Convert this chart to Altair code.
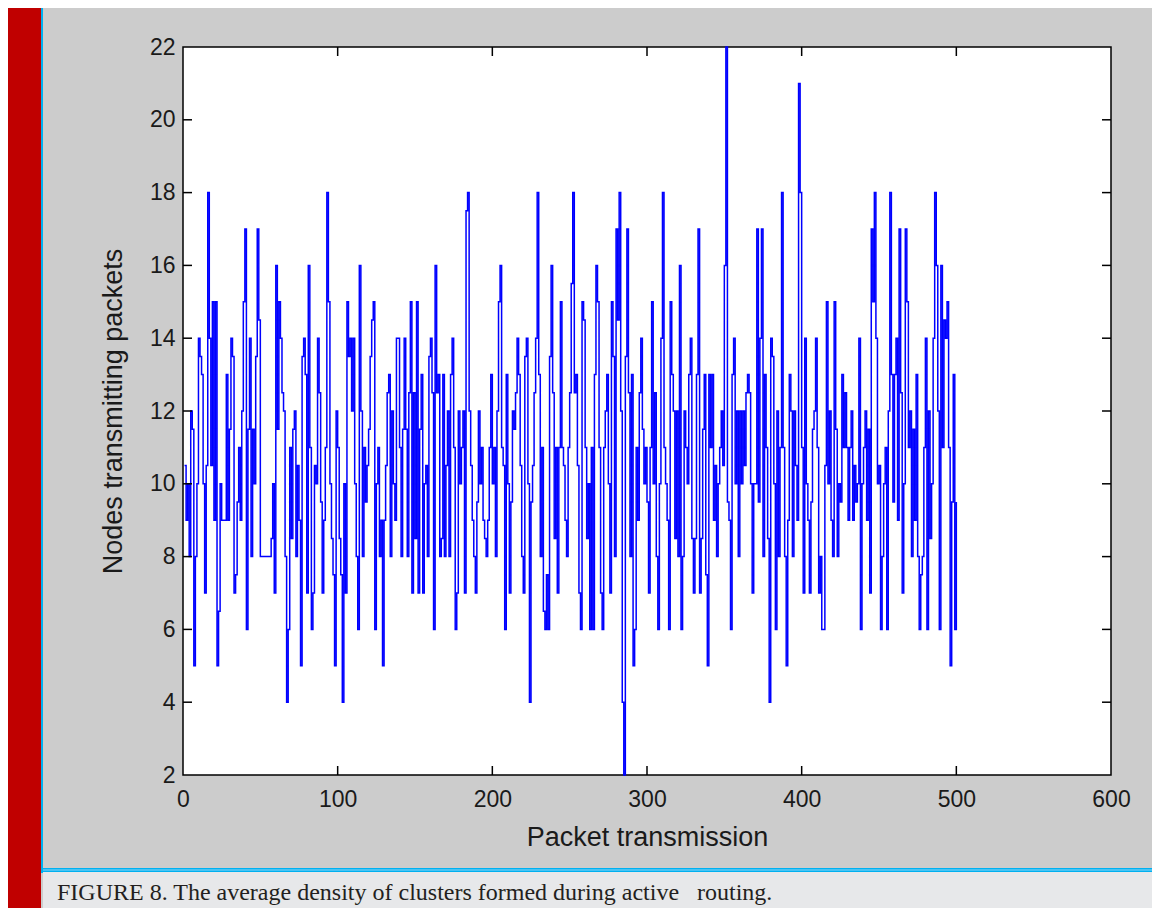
import altair as alt
import pandas as pd

# Values, packet transmissions 1..500 (stairs plot)
seg1 = [10.5, 9, 10, 8, 12, 11.5, 5, 8, 10, 14,
        13.5, 13, 10, 7, 10.5, 18, 14, 10.5, 15, 9,
        15, 5, 6.5, 10, 9, 9, 9, 13, 9, 11.5,
        14, 13.5, 7, 7.5, 9.5, 11, 9, 12, 15, 17,
        6, 11.5, 14, 8, 11.5, 10, 13.5, 17, 14.5, 8,
        8, 8, 8, 8, 8, 8, 8.5, 10, 7]
seg2 = [16, 11.5, 15, 14, 12.5, 12, 8, 4, 6, 11,
        8.5, 11.5, 12, 8, 10.5, 9, 5, 13.5, 14, 13,
        7, 16, 11, 6, 7, 10.5, 10, 14, 12.5, 9.5,
        7, 9, 11, 18, 15, 10, 8.5, 7.5, 5, 12,
        11, 8.5, 7.5, 4, 10, 7, 15, 13.5, 14, 12,
        14, 10, 8, 6, 16, 12, 8, 11, 9.5, 10.5,
        11.5, 13.5, 14.5, 15, 6]
seg3 = [10, 11, 8, 9, 5, 9, 10.5, 12.5, 13, 8,
        12, 10, 9, 14, 14, 11, 8, 11.5, 14, 11.5,
        8, 12.5, 15, 7, 12.5, 8.5, 15, 7, 11.5, 13,
        7, 10, 10.5, 8, 13.5, 14, 12.5, 6, 16, 12.5,
        13, 8, 8.5, 13, 8, 10.5, 12, 8, 13, 14,
        11, 6, 7, 12, 10, 11, 12, 7, 17.5, 18]
seg4 = [12, 10.5, 9, 8, 7, 9.5, 12, 10, 11, 9,
        8.5, 8, 9, 11, 13, 10, 11, 8, 12, 15,
        16, 11, 10.5, 6, 13, 10, 7, 9.5, 12, 11.5,
        12.5, 14, 13, 10.5, 8, 7, 13.5, 14, 10, 4,
        9.5, 10.5, 12.5, 14, 18, 13, 8, 11, 6.5, 6,
        7.5, 6, 13.5, 16, 12.5, 8.5, 11, 7, 11, 15]
seg5 = [11, 10.5, 9, 8, 11, 12.5, 15.5, 18, 12.5, 13,
        10.5, 7, 6, 15, 14.5, 11, 8.5, 10, 6, 11,
        6, 13, 16, 15, 11, 7, 6, 11, 12, 13,
        10, 7, 15, 13.5, 8, 17, 14.5, 18, 12, 4,
        2, 13.5, 17, 12.5, 8, 13, 5, 6, 11, 9,
        12.5, 14, 11.5, 10, 11, 9.5, 7, 11, 15, 10,
        12.5, 8, 6, 10]
seg6 = [14, 18, 11, 10, 9, 6, 15, 13, 12, 8.5,
        12, 8, 16, 6, 8, 12, 11, 10, 13, 14,
        8.5, 7, 8.5, 13, 17, 7, 8.5, 11.5, 13, 7.5,
        5, 13, 11, 13, 9, 10.5, 8, 10, 11, 12,
        10.5, 16, 22, 9.5, 9, 6, 13, 14, 10, 12,
        8, 12, 10, 12, 10.5, 12.5, 13, 12.5, 10, 7,
        10]
seg7 = [10, 17, 9.5, 14, 17, 8, 13, 11, 8.5, 4,
        14, 13.5, 10, 6, 12, 8, 11, 18, 11, 8,
        5, 9, 13, 12, 8, 12, 10.5, 9, 21, 18,
        11, 7, 14, 10, 9, 7, 9.5, 11.5, 12, 14,
        11, 7, 8, 6, 6, 10.5, 15, 10, 12, 9,
        8, 15, 11.5, 8, 10, 9.5, 13, 11, 12.5, 11,
        9]
seg8 = [11, 12, 9, 10.5, 9.5, 10, 14, 6, 10, 11,
        12, 9, 11.5, 7, 17, 15, 18, 14, 10, 10.5,
        6, 8, 10, 11, 6, 12, 18, 13, 9.5, 13,
        14, 9, 17, 12.5, 7, 10, 17, 15, 11, 12,
        8, 11.5, 9, 13, 8, 6, 7.5, 8, 11, 14,
        6, 12, 8.5, 10, 14, 18, 16, 12, 6, 16,
        11, 14.5, 14, 15, 11, 5, 9.5, 13, 6, 9.5]

nodes = seg1 + seg2 + seg3 + seg4 + seg5 + seg6 + seg7 + seg8
steps = list(range(1, len(nodes) + 1))

x_ticks = [0, 100, 200, 300, 400, 500, 600]
y_ticks = [2, 4, 6, 8, 10, 12, 14, 16, 18, 20, 22]

x_title = "Packet transmission"
y_title = "Nodes transmitting packets"
caption = "FIGURE 8. The average density of clusters formed during active\u00a0\u00a0 routing."

W, H = 928, 728
FONT = "Liberation Sans"

xscale = alt.Scale(domain=[0, 600], nice=False, zero=False)
yscale = alt.Scale(domain=[2, 22], nice=False, zero=False)
xaxis = alt.Axis(values=x_ticks, format="d", title=x_title, labelPadding=13,
                 titlePadding=13, labelFlush=False)
yaxis = alt.Axis(values=y_ticks, format="d", title=y_title, labelPadding=8,
                 titlePadding=22, labelFlush=False)

df = pd.DataFrame({"step": steps, "nodes": nodes})
dummy = pd.DataFrame({"k": [0]})

line = alt.Chart(df).mark_line(
    interpolate="step-after", color="#0000ff", strokeWidth=1.5
).encode(
    x=alt.X("step:Q", scale=xscale, axis=xaxis, title=x_title),
    y=alt.Y("nodes:Q", scale=yscale, axis=yaxis, title=y_title),
)

xt = pd.DataFrame({"xt": x_ticks[1:-1]})
yt = pd.DataFrame({"yt": y_ticks[1:-1]})
TL = 9
tick_style = dict(color="#000000", strokeWidth=1.5)

xt_bottom = alt.Chart(xt).mark_rule(**tick_style).encode(
    x=alt.X("xt:Q", scale=xscale, axis=xaxis, title=x_title), y=alt.value(H), y2=alt.value(H - TL))
xt_top = alt.Chart(xt).mark_rule(**tick_style).encode(
    x=alt.X("xt:Q", scale=xscale, axis=xaxis, title=x_title), y=alt.value(0), y2=alt.value(TL))
yt_left = alt.Chart(yt).mark_rule(**tick_style).encode(
    y=alt.Y("yt:Q", scale=yscale, axis=yaxis, title=y_title), x=alt.value(0), x2=alt.value(TL))
yt_right = alt.Chart(yt).mark_rule(**tick_style).encode(
    y=alt.Y("yt:Q", scale=yscale, axis=yaxis, title=y_title), x=alt.value(W), x2=alt.value(W - TL))

# page decorations (plot origin is at page x=183, y=47)
red_bar = alt.Chart(dummy).mark_rect(color="#c00000").encode(
    x=alt.value(-178), x2=alt.value(-142), y=alt.value(-47), y2=alt.value(880))
blue_left = alt.Chart(dummy).mark_rect(color="#00b0f0").encode(
    x=alt.value(-142), x2=alt.value(-140), y=alt.value(-44), y2=alt.value(826))
caption_band = alt.Chart(dummy).mark_rect(color="#e7e8ea").encode(
    x=alt.value(-140), x2=alt.value(1000), y=alt.value(825), y2=alt.value(880))
blue_bottom = alt.Chart(dummy).mark_rect(color="#00b0f0").encode(
    x=alt.value(-142), x2=alt.value(1000), y=alt.value(821), y2=alt.value(825))
blue_bottom_mid = alt.Chart(dummy).mark_rect(color="#8fd6f5").encode(
    x=alt.value(-140), x2=alt.value(1000), y=alt.value(822.6), y2=alt.value(823.4))
caption_text = alt.Chart(dummy).mark_text(
    align="left", baseline="middle", font="Liberation Serif", fontSize=24, color="#231f20"
).encode(x=alt.value(-126), y=alt.value(846), text=alt.value(caption))

chart = alt.layer(
    line, xt_bottom, xt_top, yt_left, yt_right,
    red_bar, blue_left, caption_band, blue_bottom, blue_bottom_mid, caption_text,
).properties(
    width=W, height=H,
    autosize=alt.AutoSizeParams(type="none"),
    padding={"left": 175, "top": 39, "right": 41, "bottom": 133},
    background="#cccccc",
).configure_view(
    fill="white", stroke="#000000", strokeWidth=1.5
).configure_axis(
    domain=False, grid=False, ticks=False,
    labelFont=FONT, labelFontSize=23, labelColor="#1a1a1a",
    titleFont=FONT, titleFontSize=27, titleFontWeight="normal", titleColor="#1a1a1a",
)

chart.save("out.html", embed_options={"renderer": "svg", "actions": False})
